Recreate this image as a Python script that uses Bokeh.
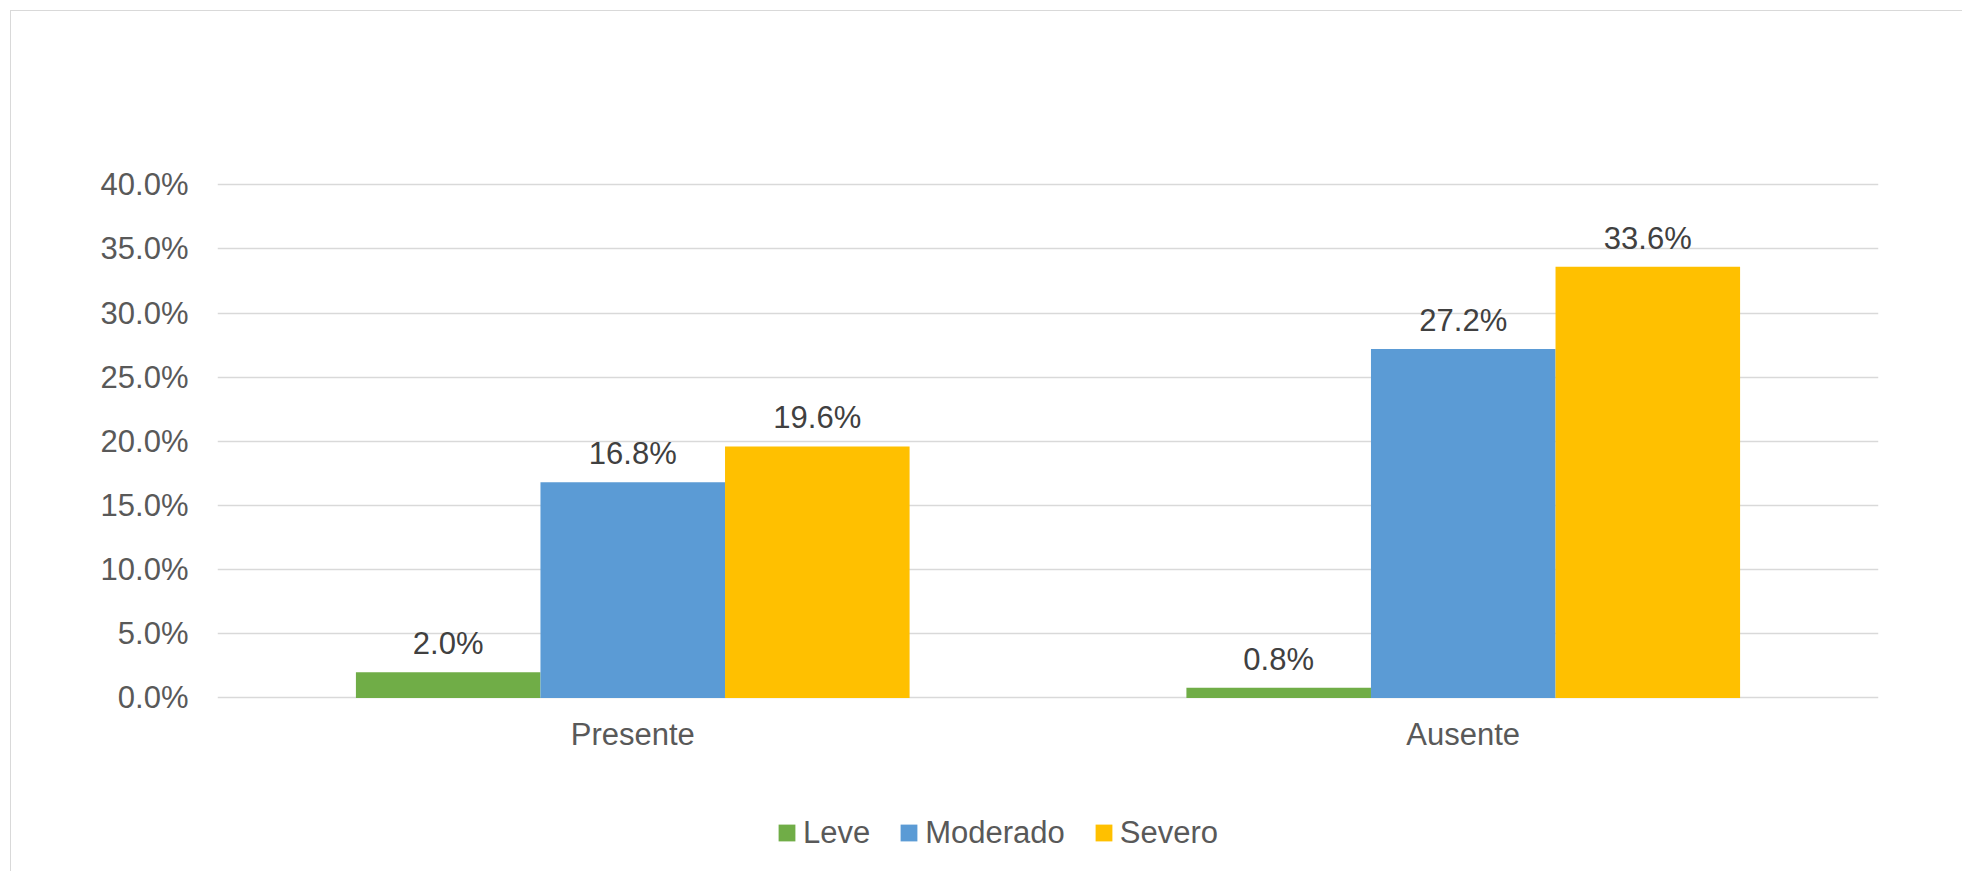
from bokeh.plotting import figure
from bokeh.models import (ColumnDataSource, FactorRange, Range1d, FixedTicker,
                          PrintfTickFormatter, Legend, LegendItem)
from bokeh.transform import dodge
from bokeh.core.properties import value
from bokeh.embed import file_html
from bokeh.resources import INLINE

# Share of cases (%) by severity, for each group
categories = ["Presente", "Ausente"]
leve = [2.0, 0.8]
moderado = [16.8, 27.2]
severo = [19.6, 33.6]
y_ticks = [0, 5, 10, 15, 20, 25, 30, 35, 40]

series = [
    ("Leve", leve, "#70AD47", -2 / 9),
    ("Moderado", moderado, "#5B9BD5", 0.0),
    ("Severo", severo, "#FFC000", 2 / 9),
]

FONT = "Liberation Sans"
FS = "31px"

# The plotting frame runs down to the bottom of the canvas so the legend can
# live inside it; the value axis keeps 12.83 px per percentage point.
p = figure(
    x_range=FactorRange(*categories),
    y_range=Range1d(-13.61, 40.25),
    width=1952, height=861,
    output_backend="svg", toolbar_location=None,
    min_border_left=206, min_border_right=85,
    min_border_top=170, min_border_bottom=0,
)
# canvas sits 11px in from the page corner, inside a thin frame line
p.styles = {
    "margin-left": "10px", "margin-top": "10px",
    "border-left": "1px solid #D9D9D9", "border-top": "1px solid #D9D9D9",
}
p.outline_line_color = None
p.background_fill_color = "white"
p.border_fill_color = "white"

# axes
p.yaxis.ticker = FixedTicker(ticks=y_ticks)
p.yaxis.formatter = PrintfTickFormatter(format="%.1f%%")
p.xaxis.fixed_location = 0
for ax in (p.xaxis[0], p.yaxis[0]):
    ax.axis_line_color = None
    ax.major_tick_line_color = None
    ax.minor_tick_line_color = None
    ax.major_tick_out = 0
    ax.major_tick_in = 0
    ax.major_label_text_font = FONT
    ax.major_label_text_font_size = FS
    ax.major_label_text_color = "#595959"
p.yaxis.major_label_standoff = 29
p.xaxis.major_label_standoff = 19

p.xgrid.grid_line_color = None
p.ygrid.grid_line_color = "#D9D9D9"
p.ygrid.grid_line_width = 1.5

items = []
for name, vals, color, off in series:
    src = ColumnDataSource(dict(cat=categories, val=vals,
                                lab=[f"{v:.1f}%" for v in vals]))
    r = p.vbar(x=dodge("cat", off, range=p.x_range), top="val", width=2 / 9,
               source=src, fill_color=color, line_color=None)
    p.text(x=dodge("cat", off, range=p.x_range), y="val", text="lab", source=src,
           text_align="center", text_baseline="alphabetic", y_offset=-28.5,
           text_font=value(FONT), text_font_size=FS, text_color="#404040")
    items.append(LegendItem(label=name, renderers=[r]))

legend = Legend(
    items=items, orientation="horizontal",
    location=(559, 21.5),
    glyph_width=21, glyph_height=21, label_standoff=6, spacing=28,
    padding=0, margin=0,
    label_text_font=FONT, label_text_font_size=FS, label_text_color="#595959",
    border_line_color=None, background_fill_alpha=0,
)
p.add_layout(legend, "center")

open("out.html", "w").write(file_html(p, INLINE))
